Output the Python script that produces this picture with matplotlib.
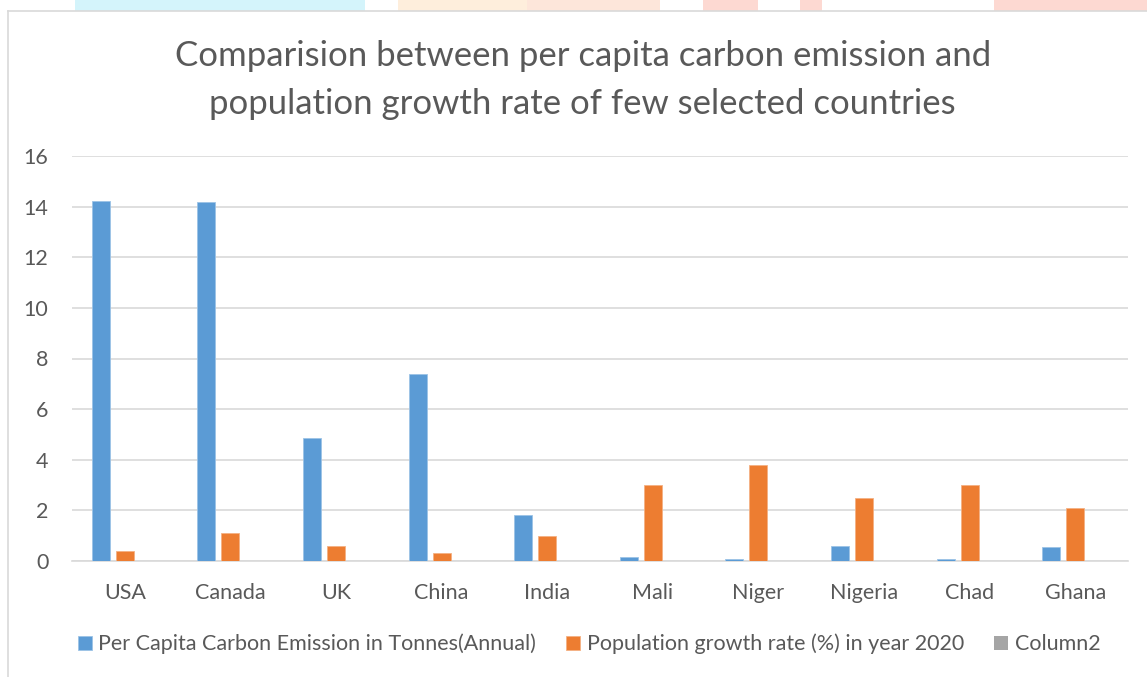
import matplotlib
matplotlib.use("Agg")
import matplotlib.pyplot as plt
from matplotlib.patches import Rectangle
import numpy as np

countries = ["USA", "Canada", "UK", "China", "India",
             "Mali", "Niger", "Nigeria", "Chad", "Ghana"]
carbon = [14.24, 14.2, 4.85, 7.4, 1.8, 0.17, 0.08, 0.6, 0.06, 0.55]
growth = [0.4, 1.1, 0.6, 0.3, 1.0, 3.0, 3.8, 2.5, 3.0, 2.1]
column2 = [0, 0, 0, 0, 0, 0, 0, 0, 0, 0]
series_names = ["Per Capita Carbon Emission in Tonnes(Annual)",
                "Population growth rate (%) in year 2020",
                "Column2"]
yticks = [0, 2, 4, 6, 8, 10, 12, 14, 16]

BLUE = "#5B9BD5"
ORANGE = "#ED7D31"
GREY = "#A5A5A5"
TXT = "#595959"
GRID = "#D9D9D9"
FONT = "Lato"

W, H = 1147, 677
fig = plt.figure(figsize=(W / 100, H / 100), dpi=100, facecolor="white")

# pastel bits of the page showing above the chart frame
for x0, x1, col in [(75, 365, "#D4F4FB"), (398, 527, "#FEEEDC"),
                    (527, 660, "#FDE6DA"), (703, 758, "#FDD9D2"),
                    (800, 822, "#FDD9D2"), (994, 1147, "#FDD9D2")]:
    fig.patches.append(Rectangle((x0 / W, 1 - 11 / H), (x1 - x0) / W, 11 / H,
                                 transform=fig.transFigure, facecolor=col,
                                 edgecolor="none", zorder=0))
# chart frame (top and left edge visible)
fig.add_artist(plt.Line2D([8 / W, 1], [1 - 11 / H, 1 - 11 / H],
                          transform=fig.transFigure, color=GRID, lw=1.2))
fig.add_artist(plt.Line2D([8 / W, 8 / W], [0, 1 - 11 / H],
                          transform=fig.transFigure, color=GRID, lw=1.2))

ax = fig.add_axes([72 / W, 116 / H, (1128 - 72) / W, (561 - 156) / H])
x = np.arange(len(countries))
bw = 0.17
off = 0.227
ax.bar(x - off, carbon, bw, color=BLUE, edgecolor="#9CC3E6", lw=0.6,
       label=series_names[0], zorder=3)
ax.bar(x, growth, bw, color=ORANGE, edgecolor="#F4B183", lw=0.6,
       label=series_names[1], zorder=3)
ax.bar(x + off, column2, bw, color=GREY, edgecolor="none",
       label=series_names[2], zorder=3)

ax.set_xlim(-0.5, len(countries) - 0.5)
ax.set_ylim(0, 16)
ax.set_yticks(yticks)
ax.set_xticks(x)
ax.set_xticklabels(countries)
ax.grid(axis="y", color=GRID, lw=1.2, zorder=0)
ax.set_axisbelow(True)
for s in ["top", "right", "left"]:
    ax.spines[s].set_visible(False)
ax.spines["bottom"].set_color(GRID)
ax.spines["bottom"].set_linewidth(1.2)
ax.tick_params(length=0, labelcolor=TXT, labelsize=15.5)
ax.tick_params(axis="y", pad=17)
ax.tick_params(axis="x", pad=16)
for t in ax.get_xticklabels() + ax.get_yticklabels():
    t.set_fontfamily(FONT)

fig.text(0.508, 1 - 80 / H,
         "Comparision between per capita carbon emission and\n"
         "population growth rate of few selected countries",
         ha="center", va="center", fontsize=25, color=TXT, family=FONT,
         linespacing=1.65)

leg = fig.legend(loc="center", bbox_to_anchor=(589 / W, 1 - 644 / H), ncol=3,
                 frameon=False, handlelength=0.65, handleheight=0.65,
                 handletextpad=0.3, columnspacing=1.4,
                 prop={"family": FONT, "size": 15.5})
for t in leg.get_texts():
    t.set_color(TXT)

fig.savefig("out.png", dpi=100, facecolor="white")
